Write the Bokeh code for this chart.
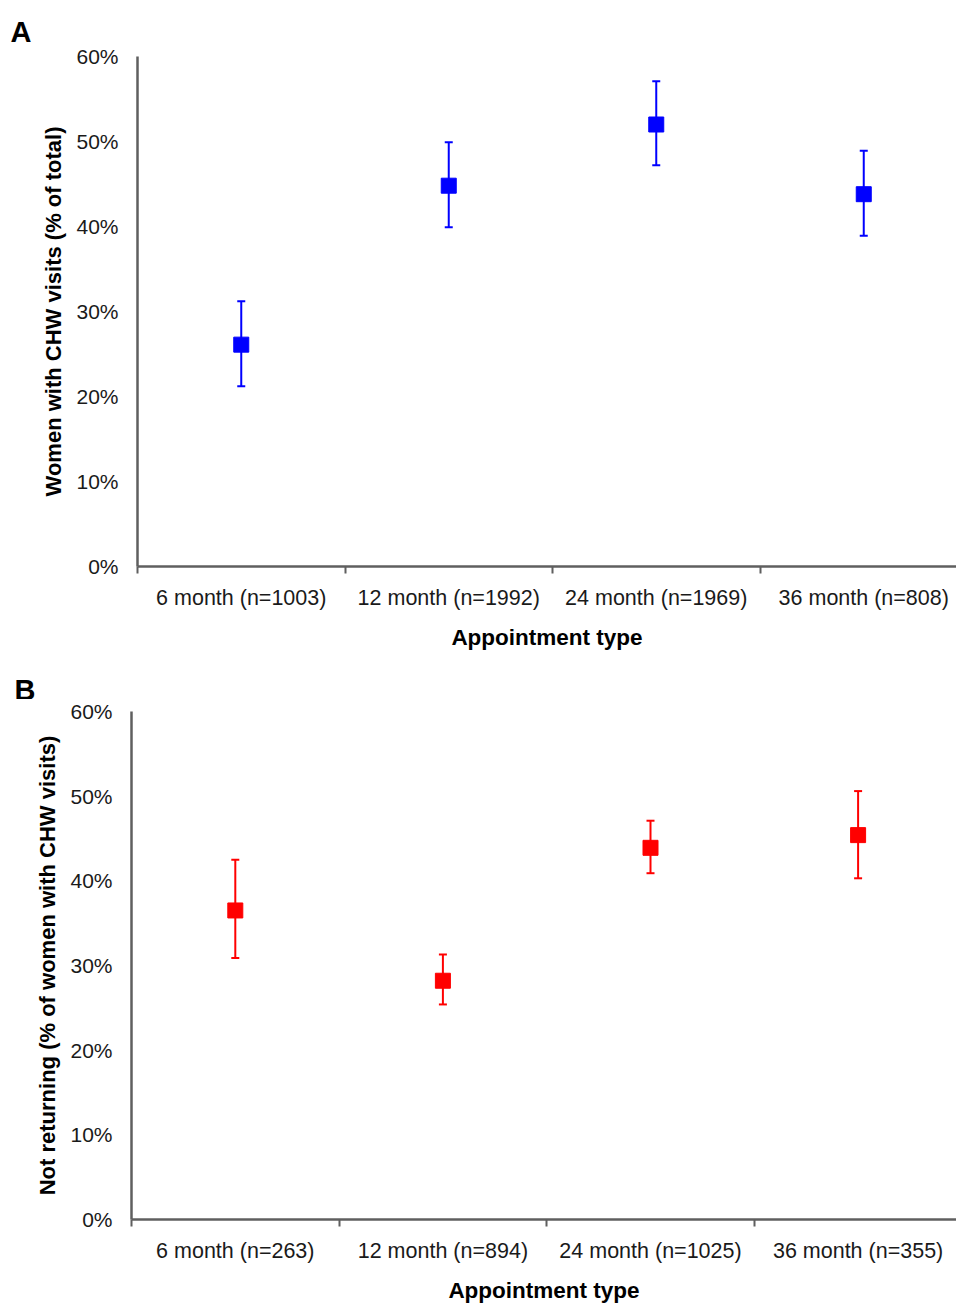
from bokeh.plotting import figure
from bokeh.layouts import column
from bokeh.models import (ColumnDataSource, Whisker, TeeHead, FixedTicker,
                          PrintfTickFormatter, Range1d)
from bokeh.core.properties import value
from bokeh.embed import file_html
from bokeh.resources import INLINE

# ---- data ----
cats_a = ["6 month (n=1003)", "12 month (n=1992)", "24 month (n=1969)", "36 month (n=808)"]
val_a = [26.1, 44.8, 52.0, 43.8]
low_a = [21.2, 39.9, 47.2, 38.9]
up_a = [31.2, 49.9, 57.1, 48.9]

cats_b = ["6 month (n=263)", "12 month (n=894)", "24 month (n=1025)", "36 month (n=355)"]
val_b = [36.5, 28.2, 43.9, 45.4]
low_b = [30.9, 25.4, 40.9, 40.3]
up_b = [42.5, 31.3, 47.1, 50.6]

ylabel_a = "Women with CHW visits (% of total)"
ylabel_b = "Not returning (% of women with CHW visits)"
xlabel = "Appointment type"
yticks = [0, 10, 20, 30, 40, 50, 60]

FONT = "Liberation Sans"
AXIS_COL = "#5f5f5f"


def letter_strip(letter, height, lx, ly):
    """A thin strip holding the panel letter (A / B)."""
    s = figure(width=956, height=height, output_backend="svg", title=None,
               toolbar_location=None, x_axis_location=None, y_axis_location=None,
               x_range=Range1d(0, 956), y_range=Range1d(0, height),
               min_border=0, frame_align=False)
    s.outline_line_color = None
    s.grid.grid_line_color = None
    s.text(x=[lx], y=[ly], text=[letter], text_font=value(FONT),
           text_font_size="29px", text_font_style="bold", text_color="black",
           text_baseline="alphabetic", text_align="left")
    return s


def make_panel(cats, vals, lows, ups, color, ylabel, height,
               border_left, border_top, border_bottom, x_end, xtitle_standoff):
    n = len(cats)
    xs = [i + 0.5 for i in range(n)]
    src = ColumnDataSource(dict(x=xs, y=vals, lo=lows, up=ups))
    p = figure(width=956, height=height, output_backend="svg", title=None,
               toolbar_location=None, x_range=Range1d(0, x_end),
               y_range=Range1d(0, 60), frame_align=False,
               min_border_left=border_left, min_border_right=0,
               min_border_top=border_top, min_border_bottom=border_bottom)
    p.outline_line_color = None
    p.grid.grid_line_color = None
    p.background_fill_color = "white"
    p.border_fill_color = "white"

    # x axis
    xa = p.xaxis[0]
    xa.ticker = FixedTicker(ticks=xs, minor_ticks=[0, 1, 2, 3])
    xa.major_label_overrides = {x: c for x, c in zip(xs, cats)}
    xa.major_tick_line_color = None
    xa.major_tick_out = 0
    xa.major_tick_in = 0
    xa.minor_tick_line_color = AXIS_COL
    xa.minor_tick_line_width = 2
    xa.minor_tick_out = 7
    xa.minor_tick_in = 0
    xa.axis_line_color = AXIS_COL
    xa.axis_line_width = 2.5
    xa.major_label_text_font = FONT
    xa.major_label_text_font_size = "21.5px"
    xa.major_label_text_color = "#1a1a1a"
    xa.major_label_standoff = 12
    xa.axis_label = xlabel
    xa.axis_label_text_font = FONT
    xa.axis_label_text_font_size = "22.5px"
    xa.axis_label_text_font_style = "bold"
    xa.axis_label_text_color = "black"
    xa.axis_label_standoff = xtitle_standoff

    # y axis
    ya = p.yaxis[0]
    ya.ticker = FixedTicker(ticks=yticks, minor_ticks=[])
    ya.formatter = PrintfTickFormatter(format="%d%%")
    ya.major_tick_line_color = None
    ya.major_tick_out = 0
    ya.major_tick_in = 0
    ya.minor_tick_line_color = None
    ya.axis_line_color = AXIS_COL
    ya.axis_line_width = 2.5
    ya.major_label_text_font = FONT
    ya.major_label_text_font_size = "21px"
    ya.major_label_text_color = "#1a1a1a"
    ya.major_label_standoff = 19
    ya.axis_label = ylabel
    ya.axis_label_text_font = FONT
    ya.axis_label_text_font_size = "22px"
    ya.axis_label_text_font_style = "bold"
    ya.axis_label_text_color = "black"
    ya.axis_label_standoff = 7

    w = Whisker(base="x", upper="up", lower="lo", source=src, dimension="height",
                line_color=color, line_width=2,
                upper_head=TeeHead(size=8, line_color=color, line_width=2),
                lower_head=TeeHead(size=8, line_color=color, line_width=2))
    p.add_layout(w)
    p.scatter("x", "y", source=src, marker="square", size=15,
              fill_color=color, line_color=color, line_width=1)
    return p


la = letter_strip("A", 44, 10, 13)
pa = make_panel(cats_a, val_a, low_a, up_a, "#0000ff", ylabel_a,
                height=614, border_left=137, border_top=12, border_bottom=92,
                x_end=819 / 207.5, xtitle_standoff=12)
lb = letter_strip("B", 41, 14, 10)
pb = make_panel(cats_b, val_b, low_b, up_b, "#ff0000", ylabel_b,
                height=606, border_left=131, border_top=12, border_bottom=84,
                x_end=825 / 207.6, xtitle_standoff=12)

layout = column(la, pa, lb, pb, spacing=0)
open("out.html", "w").write(file_html(layout, INLINE))
